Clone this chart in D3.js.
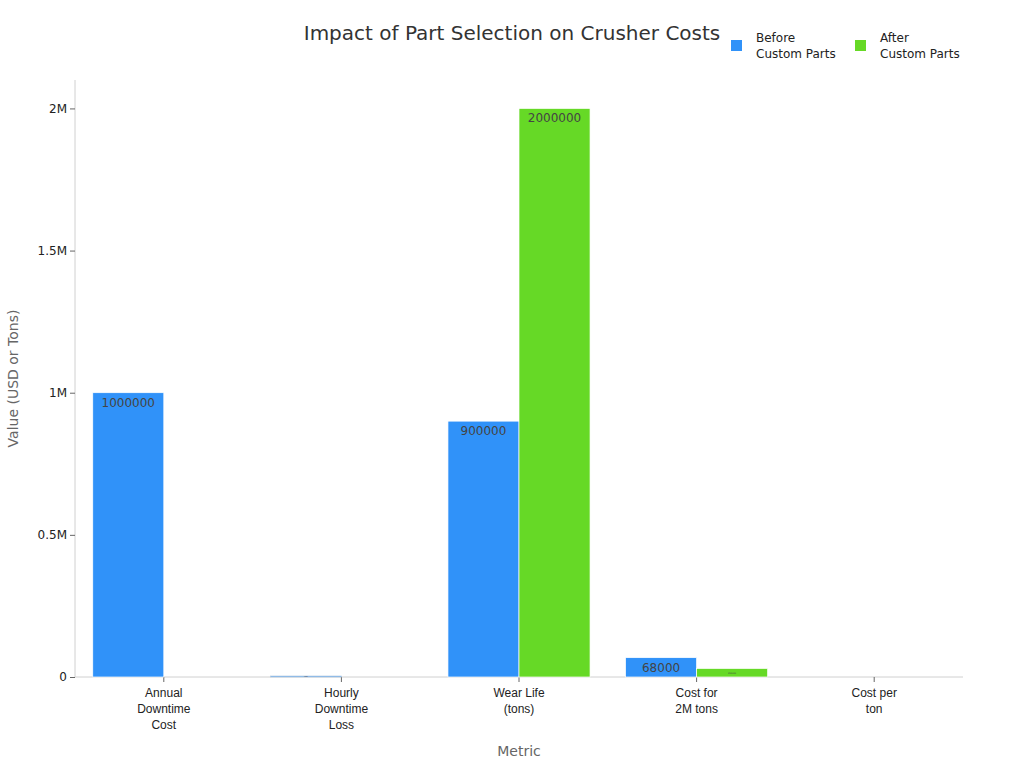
<!DOCTYPE html>
<html>
<head>
<meta charset="utf-8">
<script src="https://cdn.jsdelivr.net/npm/d3@7"></script>
<style>
  body { margin: 0; background: #fff; font-family: "DejaVu Sans", sans-serif; }
</style>
</head>
<body>
<div id="chart"></div>
<script>
var categories = ["Annual Downtime Cost", "Hourly Downtime Loss", "Wear Life (tons)", "Cost for 2M tons", "Cost per ton"];
var catLines = [["Annual", "Downtime", "Cost"], ["Hourly", "Downtime", "Loss"], ["Wear Life", "(tons)"], ["Cost for", "2M tons"], ["Cost per", "ton"]];
var seriesNames = ["Before Custom Parts", "After Custom Parts"];
var beforeValues = [1000000, 3500, 900000, 68000, 0.034];
var afterValues = [0, 0, 2000000, 30000, 0.015];
var yTicks = [0, 500000, 1000000, 1500000, 2000000];
var yTickLabels = ["0", "0.5M", "1M", "1.5M", "2M"];

var w = 1024, h = 768;
var margin = {top: 80, right: 61, bottom: 91, left: 75};
var colors = ["#3092f9", "#66d926"];

var svg = d3.select("#chart").append("svg")
    .attr("width", w)
    .attr("height", h);

var xScale = d3.scaleBand()
    .domain(categories)
    .range([margin.left, w - margin.right])
    .paddingInner(0.2)
    .paddingOuter(0.1);

var xSub = d3.scaleBand()
    .domain(seriesNames)
    .range([0, xScale.bandwidth()]);

var yScale = d3.scaleLinear()
    .domain([0, 2100000])
    .range([h - margin.bottom, margin.top]);

// axes
var xAxis = svg.append("g")
    .attr("transform", "translate(0," + (h - margin.bottom) + ")")
    .call(d3.axisBottom(xScale).tickSize(5).tickFormat(""));
xAxis.select(".domain").attr("stroke", "#d0d0d0").attr("d", "M" + margin.left + ",0H" + (w - margin.right));
xAxis.selectAll(".tick line").attr("stroke", "#666");
xAxis.selectAll(".tick").each(function(d, i) {
    var t = d3.select(this).append("text")
        .attr("fill", "#222")
        .style("font-size", "12px")
        .attr("text-anchor", "middle")
        .attr("y", 20);
    catLines[i].forEach(function(s, j) {
        t.append("tspan").attr("x", 0).attr("dy", j === 0 ? 0 : 16).text(s);
    });
});

var yAxis = svg.append("g")
    .attr("transform", "translate(" + margin.left + ",0)")
    .call(d3.axisLeft(yScale).tickValues(yTicks).tickSize(5)
        .tickFormat(function(d, i) { return yTickLabels[i]; }));
yAxis.select(".domain").attr("stroke", "#d0d0d0").attr("d", "M0," + margin.top + "V" + (h - margin.bottom));
yAxis.selectAll(".tick line").attr("stroke", "#666");
yAxis.selectAll(".tick text")
    .attr("fill", "#222")
    .style("font-size", "12px")
    .style("font-family", "DejaVu Sans, sans-serif");

// bars
var rows = categories.map(function(c, i) {
    return {cat: c, vals: [beforeValues[i], afterValues[i]]};
});

var groups = svg.selectAll(".grp")
    .data(rows)
    .enter().append("g")
    .attr("transform", function(d) { return "translate(" + xScale(d.cat) + ",0)"; });

groups.each(function(d) {
    var g = d3.select(this);
    d.vals.forEach(function(v, si) {
        var x = xSub(seriesNames[si]);
        var y = yScale(v);
        var bh = yScale(0) - y;
        if (bh < 0.5) return;  // too small to see
        g.append("rect")
            .attr("x", x)
            .attr("y", y)
            .attr("width", xSub.bandwidth())
            .attr("height", bh)
            .attr("fill", colors[si])
            .attr("stroke", bh < 2 ? "#b8cce0" : "#fff")
            .attr("stroke-width", 0.7);
        // labels inside bar; shrink when the bar is too short
        var fs = 12, ly = y + 14;
        if (bh < 18) {
            fs = Math.max(1.5, bh - 6);
            ly = y + bh / 2 + fs * 0.35;
        }
        g.append("text")
            .attr("x", x + xSub.bandwidth() / 2)
            .attr("y", ly)
            .attr("text-anchor", "middle")
            .attr("fill", "#444")
            .style("font-size", fs + "px")
            .text(v);
    });
});

// title
svg.append("text")
    .attr("x", 512)
    .attr("y", 40)
    .attr("text-anchor", "middle")
    .attr("fill", "#333")
    .style("font-size", "20px")
    .text("Impact of Part Selection on Crusher Costs");

// axis titles
svg.append("text")
    .attr("x", (margin.left + w - margin.right) / 2)
    .attr("y", 756)
    .attr("text-anchor", "middle")
    .attr("fill", "#666")
    .style("font-size", "14px")
    .text("Metric");

svg.append("text")
    .attr("transform", "translate(18," + ((margin.top + h - margin.bottom) / 2) + ") rotate(-90)")
    .attr("text-anchor", "middle")
    .attr("fill", "#666")
    .style("font-size", "14px")
    .text("Value (USD or Tons)");

// legend
var legend = svg.append("g");
var legX = [731, 855];
seriesNames.forEach(function(s, i) {
    legend.append("rect")
        .attr("x", legX[i])
        .attr("y", 40)
        .attr("width", 11)
        .attr("height", 11)
        .attr("fill", colors[i]);
    var parts = [s.split(" ")[0], s.split(" ").slice(1).join(" ")];
    var t = legend.append("text")
        .attr("fill", "#222")
        .style("font-size", "12px")
        .attr("y", 42);
    parts.forEach(function(p, j) {
        t.append("tspan").attr("x", legX[i] + 25).attr("dy", j === 0 ? 0 : 16).text(p);
    });
});
</script>
</body>
</html>
